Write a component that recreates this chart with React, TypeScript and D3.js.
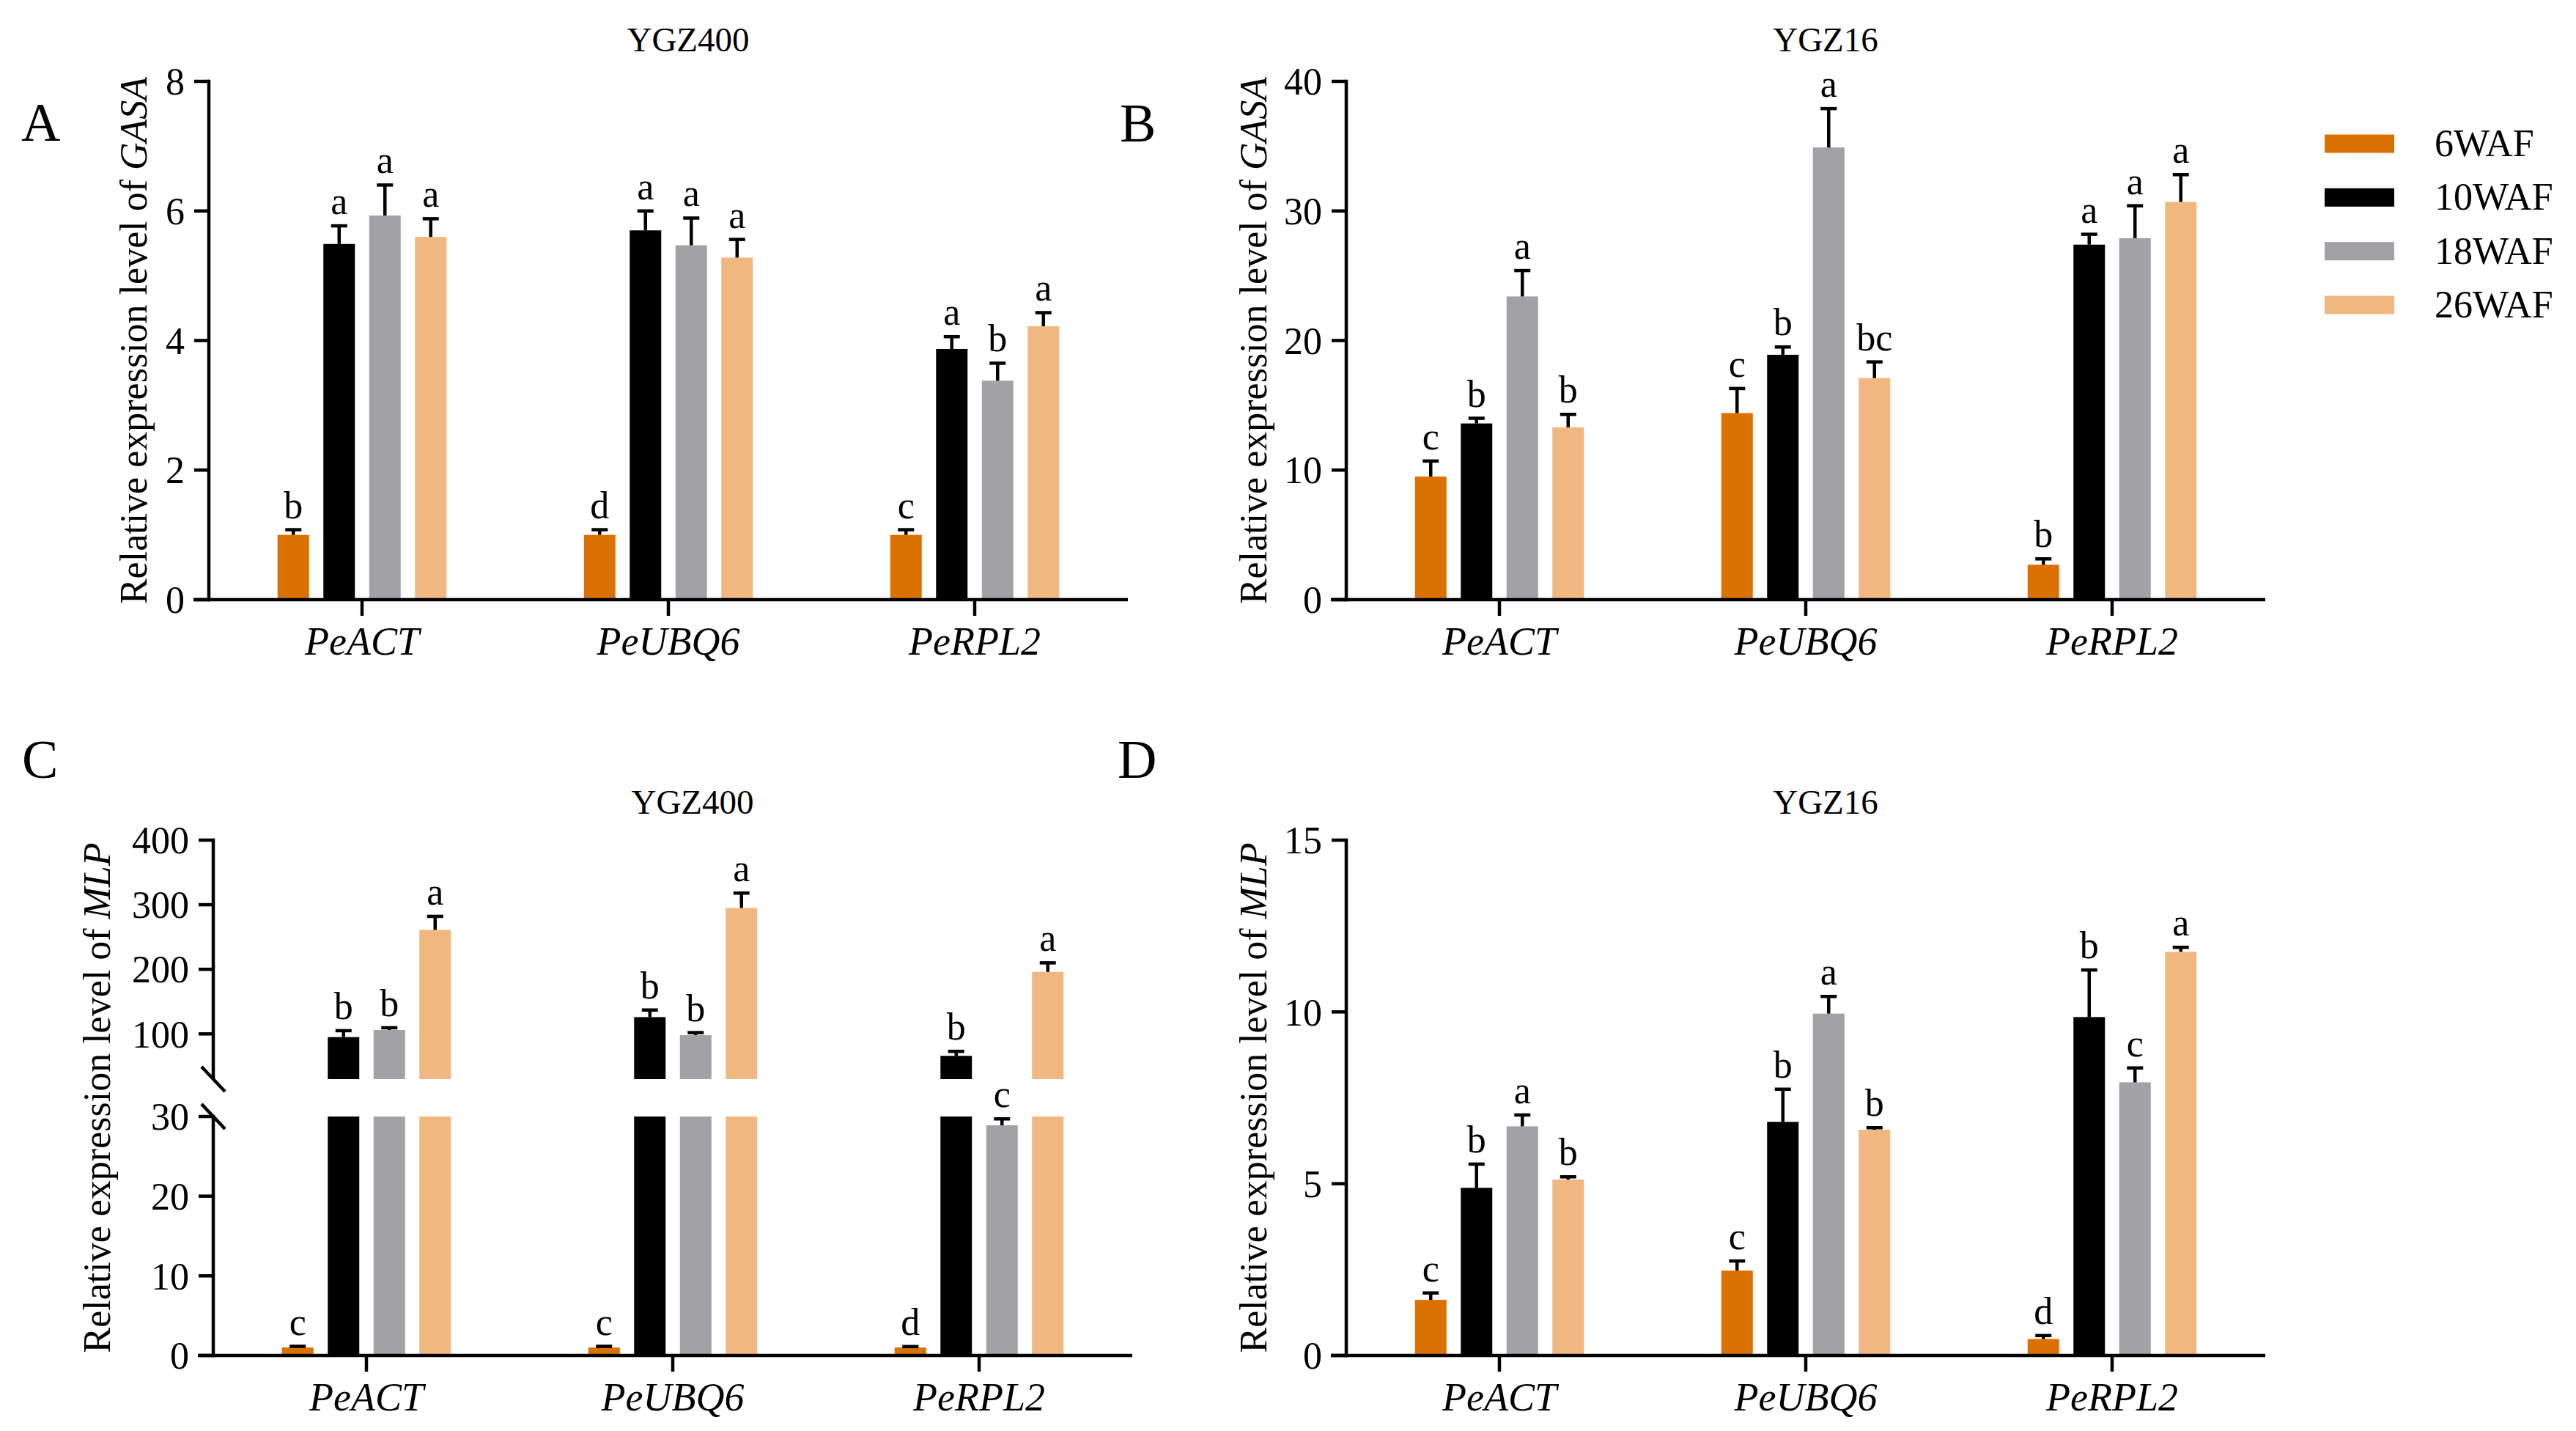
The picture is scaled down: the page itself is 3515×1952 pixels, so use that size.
import React from 'react';
import * as d3 from 'd3';

// categories and series
const categories = ['PeACT', 'PeUBQ6', 'PeRPL2'];
const stages = ['6WAF', '10WAF', '18WAF', '26WAF'];
const stageColors = ['#DA7100', '#000000', '#A2A1A6', '#F0B880'];

// A: GASA in YGZ400 (rows = reference gene, cols = stage)
const gasaYgz400 = [[1.0, 5.49, 5.93, 5.6], [1.0, 5.7, 5.47, 5.28], [1.0, 3.87, 3.38, 4.22]];
const gasaYgz400Err = [[0.08, 0.28, 0.47, 0.28], [0.08, 0.3, 0.42, 0.28], [0.08, 0.19, 0.27, 0.21]];
const gasaYgz400Sig = [['b', 'a', 'a', 'a'], ['d', 'a', 'a', 'a'], ['c', 'a', 'b', 'a']];
const gasaYgz400Ticks = [0, 2, 4, 6, 8];

// B: GASA in YGZ16
const gasaYgz16 = [[9.5, 13.6, 23.4, 13.3], [14.4, 18.9, 34.9, 17.1], [2.7, 27.4, 27.9, 30.7]];
const gasaYgz16Err = [[1.2, 0.4, 2.0, 1.0], [1.9, 0.6, 3.0, 1.25], [0.45, 0.8, 2.5, 2.1]];
const gasaYgz16Sig = [['c', 'b', 'a', 'b'], ['c', 'b', 'a', 'bc'], ['b', 'a', 'a', 'a']];
const gasaYgz16Ticks = [0, 10, 20, 30, 40];

// C: MLP in YGZ400 (broken axis)
const mlpYgz400 = [[1.0, 95, 106, 261], [1.0, 126, 98, 295], [1.0, 66, 28.9, 196]];
const mlpYgz400Err = [[0.15, 10, 3.5, 21], [0.15, 11, 4, 23], [0.12, 7, 0.8, 14]];
const mlpYgz400Sig = [['c', 'b', 'b', 'a'], ['c', 'b', 'b', 'a'], ['d', 'b', 'c', 'a']];
const mlpYgz400LowTicks = [0, 10, 20, 30];
const mlpYgz400HighTicks = [100, 200, 300, 400];

// D: MLP in YGZ16
const mlpYgz16 = [[1.62, 4.88, 6.67, 5.12], [2.47, 6.8, 9.95, 6.57], [0.48, 9.85, 7.95, 11.75]];
const mlpYgz16Err = [[0.2, 0.69, 0.33, 0.08], [0.28, 0.95, 0.5, 0.06], [0.1, 1.37, 0.42, 0.13]];
const mlpYgz16Sig = [['c', 'b', 'a', 'b'], ['c', 'b', 'a', 'b'], ['d', 'b', 'c', 'a']];
const mlpYgz16Ticks = [0, 5, 10, 15];

const W = 3515;
const H = 1952;
const FONT = '"Liberation Serif", "Times New Roman", Times, serif';
const BAND = 418;
const LW = 4.5;

type Segment = { domain: [number, number]; range: [number, number]; ticks: number[] };

type PanelProps = {
  axisX: number;
  segments: Segment[];
  values: number[][];
  errs: number[][];
  sigs: string[][];
  title: string;
  titleY: number;
  letter: string;
  letterX: number;
  letterY: number;
  gene: string;
  labelX: number;
};

const Panel = ({ axisX, segments, values, errs, sigs, title, titleY, letter, letterX, letterY, gene, labelX }: PanelProps) => {
  const x0 = d3.scaleBand<string>().domain(categories).range([axisX, axisX + 3 * BAND]);
  const x1 = d3.scaleBand<string>().domain(stages).range([-125, 125]).paddingInner(0.312).paddingOuter(0.156);
  const scales = segments.map(s => d3.scaleLinear().domain(s.domain).range(s.range));
  const base = segments[0].range[0];
  const top = segments[segments.length - 1].range[1];
  const segFor = (v: number) => {
    for (let i = 0; i < segments.length; i++) if (v <= segments[i].domain[1]) return i;
    return segments.length - 1;
  };
  const bw = x1.bandwidth();

  return (
    <g>
      <text x={letterX} y={letterY} fontSize={74} fontFamily={FONT}>{letter}</text>
      <text x={axisX + 1.5 * BAND + 27} y={titleY} fontSize={47} fontFamily={FONT} textAnchor="middle">{title}</text>
      <text
        transform={`translate(${labelX},${(base + top) / 2}) rotate(-90)`}
        fontSize={52}
        fontFamily={FONT}
        textAnchor="middle"
      >
        Relative expression level of <tspan fontStyle="italic">{gene}</tspan>
      </text>

      {/* bars */}
      {categories.map((cat, ci) => {
        const cx = x0(cat)! + x0.bandwidth() / 2;
        return (
          <g key={cat}>
            {stages.map((st, si) => {
              const v = values[ci][si];
              const e = errs[ci][si];
              const bx = cx + x1(st)!;
              const k = segFor(v + e);
              const yTop = scales[k](v + e);
              const yv = scales[segFor(v)](v);
              return (
                <g key={st}>
                  {segments.map((s, gi) =>
                    v > s.domain[0] ? (
                      <rect
                        key={gi}
                        x={bx}
                        width={bw}
                        y={scales[gi](Math.min(v, s.domain[1]))}
                        height={scales[gi](s.domain[0]) - scales[gi](Math.min(v, s.domain[1]))}
                        fill={stageColors[si]}
                      />
                    ) : null
                  )}
                  <line x1={bx + bw / 2} x2={bx + bw / 2} y1={yv} y2={yTop} stroke="#000" strokeWidth={LW} />
                  <line x1={bx + bw / 2 - 11} x2={bx + bw / 2 + 11} y1={yTop} y2={yTop} stroke="#000" strokeWidth={LW} />
                  <text x={bx + bw / 2} y={yTop - 16} fontSize={52} fontFamily={FONT} textAnchor="middle">
                    {sigs[ci][si]}
                  </text>
                </g>
              );
            })}
          </g>
        );
      })}

      {/* y axis segments */}
      {segments.map((s, gi) => (
        <g key={gi}>
          <line x1={axisX} x2={axisX} y1={s.range[0] + (gi === 0 ? LW / 2 : 0)} y2={s.range[1] - LW / 2} stroke="#000" strokeWidth={LW} />
          {s.ticks.map(t => (
            <g key={t}>
              <line x1={axisX - 20} x2={axisX} y1={scales[gi](t)} y2={scales[gi](t)} stroke="#000" strokeWidth={LW} />
              <text x={axisX - 33} y={scales[gi](t)} dy="0.35em" fontSize={52} fontFamily={FONT} textAnchor="end">
                {t}
              </text>
            </g>
          ))}
        </g>
      ))}

      {/* break marks */}
      {segments.length > 1 &&
        [segments[0].range[1], segments[1].range[0]].map((yb, i) => (
          <line key={i} x1={axisX - 16} x2={axisX + 16} y1={yb - 17} y2={yb + 17} stroke="#000" strokeWidth={LW} />
        ))}

      {/* x axis */}
      <line x1={axisX - 21} x2={axisX + 3 * BAND} y1={base} y2={base} stroke="#000" strokeWidth={LW} />
      {categories.map(cat => {
        const cx = x0(cat)! + x0.bandwidth() / 2;
        return (
          <g key={cat}>
            <line x1={cx} x2={cx} y1={base} y2={base + 22} stroke="#000" strokeWidth={LW} />
            <text x={cx} y={base + 75} fontSize={54} fontStyle="italic" fontFamily={FONT} textAnchor="middle">
              {cat}
            </text>
          </g>
        );
      })}
    </g>
  );
};

const Legend = () => {
  const ly = d3.scalePoint<string>().domain(stages).range([196, 416]);
  return (
    <g>
      {stages.map((st, i) => (
        <g key={st}>
          <rect x={3172} y={ly(st)! - 12.5} width={95} height={25} fill={stageColors[i]} />
          <text x={3322} y={ly(st)! + 17} fontSize={52} fontFamily={FONT}>{st}</text>
        </g>
      ))}
    </g>
  );
};

export default function App() {
  const topBase = 818;
  const topTop = 111;
  const botBase = 1849;
  const botTop = 1146;
  return (
    <svg width={W} height={H} style={{ position: 'absolute', left: 0, top: 0, background: '#fff' }}>
      <rect width={W} height={H} fill="#fff" />
      <Panel
        axisX={285}
        segments={[{ domain: [0, 8], range: [topBase, topTop], ticks: gasaYgz400Ticks }]}
        values={gasaYgz400}
        errs={gasaYgz400Err}
        sigs={gasaYgz400Sig}
        title="YGZ400"
        titleY={70}
        letter="A"
        letterX={29}
        letterY={192}
        gene="GASA"
        labelX={200}
      />
      <Panel
        axisX={1837}
        segments={[{ domain: [0, 40], range: [topBase, topTop], ticks: gasaYgz16Ticks }]}
        values={gasaYgz16}
        errs={gasaYgz16Err}
        sigs={gasaYgz16Sig}
        title="YGZ16"
        titleY={70}
        letter="B"
        letterX={1528}
        letterY={193}
        gene="GASA"
        labelX={1728}
      />
      <Panel
        axisX={291}
        segments={[
          { domain: [0, 30], range: [botBase, botBase - 326], ticks: mlpYgz400LowTicks },
          { domain: [30, 400], range: [botTop + 326, botTop], ticks: mlpYgz400HighTicks },
        ]}
        values={mlpYgz400}
        errs={mlpYgz400Err}
        sigs={mlpYgz400Sig}
        title="YGZ400"
        titleY={1110}
        letter="C"
        letterX={30}
        letterY={1061}
        gene="MLP"
        labelX={150}
      />
      <Panel
        axisX={1837}
        segments={[{ domain: [0, 15], range: [botBase, botTop], ticks: mlpYgz16Ticks }]}
        values={mlpYgz16}
        errs={mlpYgz16Err}
        sigs={mlpYgz16Sig}
        title="YGZ16"
        titleY={1110}
        letter="D"
        letterX={1525}
        letterY={1061}
        gene="MLP"
        labelX={1728}
      />
      <Legend />
    </svg>
  );
}
